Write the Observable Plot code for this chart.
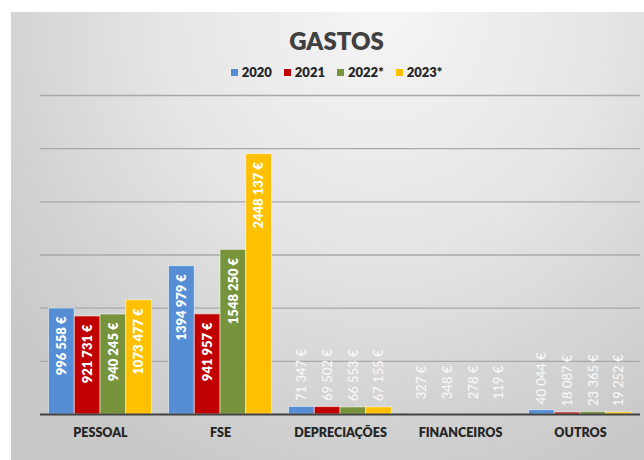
<!DOCTYPE html>
<html>
<head>
<meta charset="utf-8">
<script src="https://cdn.jsdelivr.net/npm/d3@7"></script>
<script src="https://cdn.jsdelivr.net/npm/@observablehq/plot@0.6"></script>
<style>
  html, body { margin: 0; padding: 0; background: #ffffff; }
  #wrap { position: relative; width: 644px; height: 460px; overflow: hidden; font-family: Lato, "Open Sans", sans-serif; }
  #bg { position: absolute; left: 11px; top: 12px; width: 640px; height: 460px;
        background: radial-gradient(ellipse 75% 110% at 58% 0%, #f5f5f5 0%, #e6e6e6 45%, #d2d2d2 80%, #c8c8c8 100%); }
  #title { position: absolute; left: 0; top: 27px; width: 673px; text-align: center; font-size: 24px; font-weight: 800; color: #404040; line-height: 1.2; }
  #legend { position: absolute; left: 0; top: 65px; width: 673px; display: flex; justify-content: center; align-items: center;
            font-size: 13px; font-weight: 800; color: #262626; line-height: 15px; }
  .item { display: flex; align-items: center; margin: 0 6px; }
  .sw { width: 7px; height: 7px; margin-right: 4px; }
  #chart { position: absolute; left: 0; top: 0; }
</style>
</head>
<body>
<div id="wrap">
  <div id="bg"></div>
  <div id="title">GASTOS</div>
  <div id="legend"></div>
  <div id="chart"></div>
</div>
<script>
const categories = ["PESSOAL", "FSE", "DEPRECIAÇÕES", "FINANCEIROS", "OUTROS"];
const years = ["2020", "2021", "2022*", "2023*"];
const v2020 = [996558, 1394979, 71347, 327, 40044];
const v2021 = [921731, 941957, 69502, 348, 18087];
const v2022 = [940245, 1548250, 66553, 278, 23365];
const v2023 = [1073477, 2448137, 67155, 119, 19252];
const colors = ["#558ed5", "#c00000", "#77933c", "#ffc000"];
const gridTicks = [500000, 1000000, 1500000, 2000000, 2500000, 3000000];

const series = [v2020, v2021, v2022, v2023];
const rows = [];
categories.forEach((c, j) => years.forEach((yr, i) => rows.push({category: c, year: yr, value: series[i][j]})));

const fmt = v => v >= 1000 ? `${Math.floor(v / 1000)} ${String(v % 1000).padStart(3, "0")} €` : `${v} €`;

// legend
const legend = document.getElementById("legend");
years.forEach((yr, i) => {
  const item = document.createElement("div");
  item.className = "item";
  const sw = document.createElement("span");
  sw.className = "sw";
  sw.style.background = colors[i];
  const t = document.createElement("span");
  t.textContent = yr;
  item.appendChild(sw); item.appendChild(t);
  legend.appendChild(item);
});

const padIn = 0.142, step = 120;
const ext = -(step * padIn) / 2;

const chart = Plot.plot({
  width: 644,
  height: 460,
  marginLeft: 40,
  marginRight: 4,
  marginTop: 95,
  marginBottom: 46,
  style: {background: "transparent", fontFamily: "Lato, 'Open Sans', sans-serif", fontSize: "12.5px", fontWeight: 800, color: "#262626", overflow: "visible"},
  facet: {data: rows, x: "category"},
  fx: {domain: categories, paddingInner: padIn, paddingOuter: padIn / 2, round: false, axis: "bottom", tickSize: 0, tickPadding: 14, label: null},
  x: {domain: years, padding: 0, round: false, axis: null},
  y: {domain: [0, 3000000], axis: null},
  color: {domain: years, range: colors},
  marks: [
    Plot.ruleY(gridTicks, {stroke: "#a8a8a8", strokeWidth: 1.3, insetLeft: ext, insetRight: ext}),
    Plot.barY(rows, {x: "year", y: "value", fill: "year", stroke: "#ffffff", strokeOpacity: 0.55, strokeWidth: 1}),
    Plot.ruleY([0], {stroke: "#404040", strokeWidth: 2, insetLeft: ext, insetRight: ext}),
    Plot.text(rows, {filter: d => d.value > 300000, x: "year", y: "value", text: d => fmt(d.value), rotate: -90, textAnchor: "end", dy: 8, fill: "#ffffff", fontWeight: 800, fontSize: 13}),
    Plot.text(rows, {filter: d => d.value <= 300000, x: "year", y: "value", text: d => fmt(d.value), rotate: -90, textAnchor: "middle", dy: -32, fill: "#f8f8f8", fontWeight: 500, fontSize: 13})
  ]
});
document.getElementById("chart").appendChild(chart);
</script>
</body>
</html>
